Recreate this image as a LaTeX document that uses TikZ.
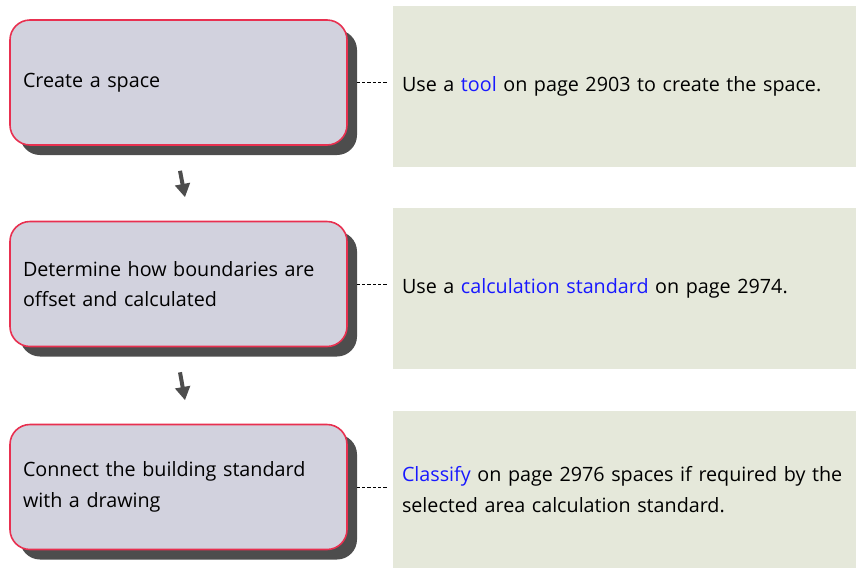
\documentclass[tikz,border=0pt]{standalone}
\usepackage{fontspec}
\setmainfont{Open Sans}
\usetikzlibrary{shadows,arrows.meta,calc}
\definecolor{stepfill}{RGB}{210,210,222}
\definecolor{stepline}{RGB}{232,48,80}
\definecolor{shadowgray}{RGB}{77,77,77}
\definecolor{notefill}{RGB}{229,232,218}
\definecolor{linkblue}{RGB}{24,24,255}
\newcommand{\linkword}[1]{\textcolor{linkblue}{#1}}
\newcommand{\bodyfont}{\fontsize{14.8}{23}\selectfont}
\begin{document}
\begin{tikzpicture}[x=0.75pt,y=-0.75pt,
		stepbox/.style={draw=stepline, line width=1.2pt, fill=stepfill, rounded corners=15pt,
			minimum width=252.75pt, minimum height=93.75pt, text width=233.25pt,
			inner xsep=9.75pt, align=left, font=\bodyfont,
			drop shadow={shadow xshift=7.5pt, shadow yshift=-7.5pt, fill=shadowgray, opacity=1}},
		notebox/.style={fill=notefill, minimum width=347.25pt, text width=333.75pt,
			inner xsep=6.75pt, align=left, font=\bodyfont},
		joinline/.style={dashed, dash pattern=on 2.5pt off 1.5pt, thin, shorten <=6.75pt, shorten >=3pt},
		flow/.style={shadowgray, line width=3pt, -{Triangle[width=11pt,length=10pt]}}]
	\useasboundingbox (0,0) rectangle (856,568);
	% steps on the left
	\node[stepbox] (step1) at (178.5,82.5) {Create a space};
	\node[stepbox] (step2) at (178.5,284) {Determine how boundaries are\\ offset and calculated};
	\node[stepbox] (step3) at (178.5,487) {Connect the building standard\\ with a drawing};
	% notes on the right
	\node[notebox, minimum height=120.75pt] (note1) at (624.5,86.5)
		{Use a \linkword{tool} on page 2903 to create the space.};
	\node[notebox, minimum height=120.75pt] (note2) at (624.5,288.5)
		{Use a \linkword{calculation standard} on page 2974.};
	\node[notebox, minimum height=117.75pt] (note3) at (624.5,489.5)
		{\linkword{Classify} on page 2976 spaces if required by the\\ selected area calculation standard.};
	\foreach \i in {1,2,3} {
		\draw[joinline] (step\i.east) -- (step\i.east -| note\i.west);
	}
	\foreach \a/\b in {step1/step2, step2/step3} {
		\draw[flow] ($(\a.south)+(1.5,25)$) -- ($(\b.north)+(6.5,-23.5)$);
	}
\end{tikzpicture}
\end{document}
